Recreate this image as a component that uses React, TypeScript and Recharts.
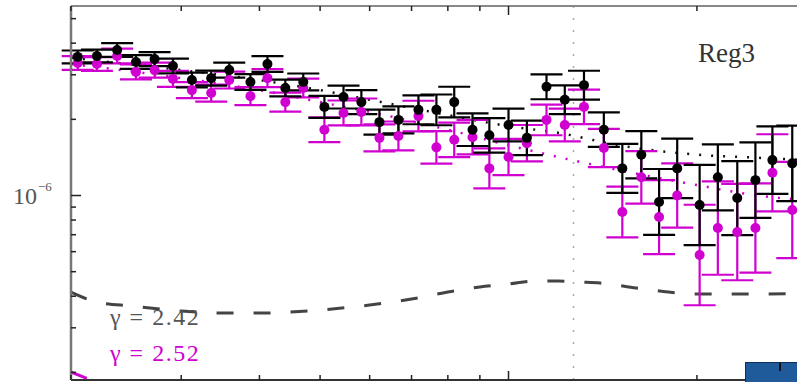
import React from "react";
import { ComposedChart, Scatter, Line, XAxis, YAxis, ErrorBar, ReferenceLine } from "recharts";

const UNIT = 1e-6;

// energy bins (log x axis)
const energy = [2.05, 2.2, 2.37, 2.54, 2.72, 2.91, 3.12, 3.35, 3.58, 3.87, 4.12, 4.4, 4.7, 5.08, 5.45, 5.82, 6.22, 6.67, 7.18, 7.67, 8.19, 8.76, 9.32, 10.0, 10.7, 11.5, 12.3, 13.2, 14.2, 15.2, 16.3, 17.4, 18.6, 20.2, 21.6, 23.2, 24.8, 26.4, 28.4];

// gamma = 2.42 (black), in units of 1e-6
const fluxBlack = [3.53, 3.56, 3.76, 3.37, 3.46, 3.25, 2.86, 2.91, 3.13, 2.81, 3.31, 2.66, 2.81, 2.24, 2.45, 2.34, 1.95, 1.99, 2.18, 2.18, 2.34, 1.82, 1.73, 1.9, 1.69, 2.69, 2.39, 2.73, 1.82, 1.28, 1.45, 0.943, 1.28, 0.917, 1.18, 0.977, 1.15, 1.38, 1.34];
const relErrBlack = [0.06, 0.06, 0.065, 0.065, 0.065, 0.07, 0.07, 0.07, 0.07, 0.075, 0.075, 0.08, 0.08, 0.105, 0.11, 0.115, 0.12, 0.13, 0.14, 0.15, 0.15, 0.16, 0.17, 0.16, 0.17, 0.12, 0.14, 0.14, 0.17, 0.25, 0.24, 0.35, 0.31, 0.44, 0.35, 0.4, 0.41, 0.36, 0.41];

// gamma = 2.52 (magenta)
const fluxMagenta = [3.34, 3.31, 3.56, 3.08, 3.13, 2.89, 2.61, 2.54, 2.86, 2.47, 2.91, 2.34, 2.66, 1.82, 2.12, 2.14, 1.69, 1.72, 2.06, 1.55, 1.66, 1.7, 1.28, 1.42, 1.61, 1.99, 1.9, 2.24, 1.54, 0.861, 1.18, 0.822, 1.0, 0.582, 0.744, 0.717, 0.744, 1.23, 0.876];
const relErrMagenta = [0.065, 0.065, 0.07, 0.07, 0.07, 0.075, 0.075, 0.08, 0.08, 0.085, 0.085, 0.09, 0.09, 0.12, 0.12, 0.13, 0.13, 0.14, 0.15, 0.16, 0.17, 0.17, 0.2, 0.18, 0.18, 0.15, 0.16, 0.17, 0.19, 0.26, 0.27, 0.4, 0.34, 0.58, 0.53, 0.55, 0.5, 0.42, 0.55];

// model curves (dotted)
const modelEnergy = [2, 3, 4, 5, 6, 8, 10, 12, 15, 20, 25, 30];
const modelBlack = [3.5, 3.13, 2.86, 2.61, 2.39, 2.08, 1.88, 1.77, 1.58, 1.45, 1.41, 1.38];
const modelMagenta = [3.31, 2.91, 2.61, 2.34, 2.14, 1.82, 1.58, 1.42, 1.26, 1.1, 1.0, 0.96];

// background component (dashed)
const bgEnergy = [2, 2.2, 2.5, 3, 3.5, 4, 5, 6, 7, 8, 9, 10, 11, 12, 13, 14, 16, 18, 20, 22, 25, 30];
const bgGray = [0.4156, 0.3794, 0.3658, 0.3495, 0.3432, 0.3432, 0.3527, 0.3692, 0.3899, 0.4156, 0.4348, 0.4468, 0.4593, 0.4593, 0.4551, 0.451, 0.4309, 0.4156, 0.408, 0.408, 0.408, 0.4118];
const bgMagentaEnergy = [2, 2.2, 2.5];
const bgMagenta = [0.2006, 0.183, 0.165];

const breakEnergy = 12.7;

const xTicks = [2, 3, 4, 5, 6, 7, 8, 9, 10, 20];
const xMajor = [10];
const yTicks = [2e-7, 3e-7, 4e-7, 5e-7, 6e-7, 7e-7, 8e-7, 9e-7, 1e-6, 2e-6, 3e-6, 4e-6, 5e-6];
const xDomain = [2, 28.9];
const yDomain = [1.866e-7, 5.61e-6];

const MAGENTA = "#d000d0";
const FONT = "'Liberation Serif', 'DejaVu Serif', serif";

const points = (flux: number[], rel: number[]) =>
  energy.map((x, i) => {
    const v = flux[i] * UNIT;
    return { x, y: v, err: [v - v / (1 + rel[i]), v * rel[i]] };
  });

const curve = (xs: number[], ys: number[]) => xs.map((x, i) => ({ x, y: ys[i] * UNIT }));

const blackData = points(fluxBlack, relErrBlack);
const magentaData = points(fluxMagenta, relErrMagenta);

const BottomTick = ({ x, y, payload }: any) => {
  const len = xMajor.includes(payload.value) ? 9 : 5;
  return <line x1={x} x2={x} y1={y} y2={y - len} stroke="#222" strokeWidth={1.5} />;
};

const TopTick = ({ x, y, payload }: any) => {
  const len = xMajor.includes(payload.value) ? 9 : 5;
  return <line x1={x} x2={x} y1={y} y2={y + len} stroke="#222" strokeWidth={1.5} />;
};

const LeftTick = ({ x, y, payload }: any) => {
  const major = payload.value === 1e-6;
  return (
    <g>
      <line x1={x} x2={x + (major ? 10 : 5)} y1={y} y2={y} stroke="#222" strokeWidth={1.5} />
      {major && (
        <g fill="#555" fontFamily={FONT}>
          <text x={37} y={y + 8} textAnchor="end" fontSize={24}>10</text>
          <text x={38} y={y - 5} fontSize={13}>−6</text>
        </g>
      )}
    </g>
  );
};

const dot = (color: string) => (props: any) => <circle cx={props.cx} cy={props.cy} r={5} fill={color} />;

export default function App() {
  return (
    <div style={{ position: "fixed", left: 0, top: 0, width: 797, height: 382, overflow: "hidden", background: "#fff" }}>
      <ComposedChart width={797} height={382} margin={{ top: 0, right: 0, bottom: 0, left: 0 }}>
        <XAxis
          dataKey="x"
          type="number"
          scale="log"
          domain={xDomain}
          allowDataOverflow
          ticks={xTicks}
          interval={0}
          height={2}
          tickSize={0}
          tickMargin={0}
          tickLine={false}
          tick={BottomTick}
          axisLine={{ stroke: "#333", strokeWidth: 2 }}
        />
        <XAxis
          xAxisId="top"
          orientation="top"
          dataKey="x"
          type="number"
          scale="log"
          domain={xDomain}
          allowDataOverflow
          ticks={xTicks}
          interval={0}
          height={6}
          tickSize={0}
          tickMargin={0}
          tickLine={false}
          tick={TopTick}
          axisLine={{ stroke: "#888", strokeWidth: 2 }}
        />
        <YAxis
          dataKey="y"
          type="number"
          scale="log"
          domain={yDomain}
          allowDataOverflow
          ticks={yTicks}
          interval={0}
          width={71}
          tickSize={0}
          tickMargin={0}
          tickLine={false}
          tick={LeftTick}
          axisLine={{ stroke: "#777", strokeWidth: 2.5 }}
        />
        <ReferenceLine x={breakEnergy} stroke="#aaa" strokeWidth={1.5} strokeDasharray="2 10" />
        <Line data={curve(bgEnergy, bgGray)} dataKey="y" type="monotone" stroke="#444" strokeWidth={3} strokeDasharray="17 20" dot={false} isAnimationActive={false} />
        <Line data={curve(bgMagentaEnergy, bgMagenta)} dataKey="y" type="monotone" stroke={MAGENTA} strokeWidth={3} strokeDasharray="17 20" dot={false} isAnimationActive={false} />
        <Line data={curve(modelEnergy, modelMagenta)} dataKey="y" type="monotone" stroke={MAGENTA} strokeWidth={2.5} strokeDasharray="2 10" dot={false} isAnimationActive={false} />
        <Line data={curve(modelEnergy, modelBlack)} dataKey="y" type="monotone" stroke="#111" strokeWidth={2.5} strokeDasharray="2 10" dot={false} isAnimationActive={false} />
        <Scatter data={magentaData} dataKey="y" fill={MAGENTA} shape={dot(MAGENTA)} isAnimationActive={false}>
          <ErrorBar dataKey="err" direction="y" width={16} stroke={MAGENTA} strokeWidth={2.2} />
        </Scatter>
        <Scatter data={blackData} dataKey="y" fill="#000" shape={dot("#000")} isAnimationActive={false}>
          <ErrorBar dataKey="err" direction="y" width={16} stroke="#000" strokeWidth={2.2} />
        </Scatter>
      </ComposedChart>
      <div style={{ position: "absolute", left: 698, top: 38, fontFamily: FONT, fontSize: 27, color: "#333", lineHeight: "30px" }}>Reg3</div>
      <div style={{ position: "absolute", left: 110, top: 302, fontFamily: FONT, fontSize: 24, color: "#555", letterSpacing: 1.5, lineHeight: "30px" }}>γ = 2.42</div>
      <div style={{ position: "absolute", left: 110, top: 338, fontFamily: FONT, fontSize: 24, color: MAGENTA, letterSpacing: 1.5, lineHeight: "30px" }}>γ = 2.52</div>
      <div style={{ position: "absolute", left: 745, top: 362, width: 60, height: 26, background: "#1f5a9a", border: "1px solid #0d2f55" }}>
        <div style={{ position: "absolute", left: 33, top: 0, width: 2, height: 8, background: "#111" }} />
      </div>
    </div>
  );
}
